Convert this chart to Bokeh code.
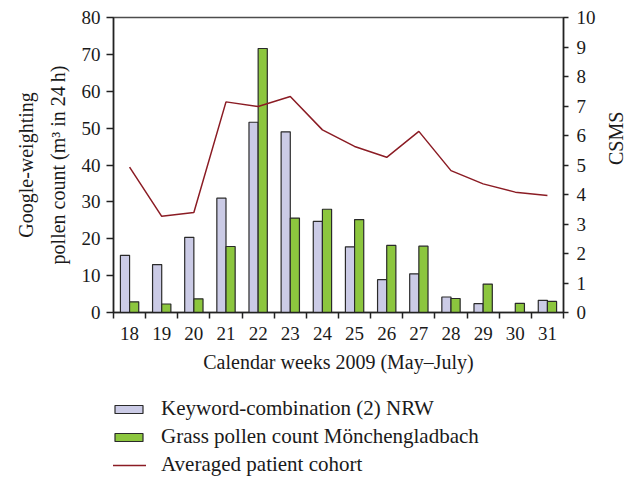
from bokeh.plotting import figure
from bokeh.layouts import column
from bokeh.models import (Range1d, LinearAxis, FixedTicker, Legend, LegendItem,
                          ColumnDataSource)
from bokeh.transform import dodge
from bokeh.embed import file_html
from bokeh.resources import INLINE
import math

weeks = [18, 19, 20, 21, 22, 23, 24, 25, 26, 27, 28, 29, 30, 31]
keyword_nrw = [15.5, 13.0, 20.4, 31.0, 51.6, 49.0, 24.7, 17.8, 8.9, 10.5, 4.2, 2.4, 0.0, 3.3]
grass_pollen = [2.9, 2.3, 3.7, 17.9, 71.6, 25.6, 28.0, 25.2, 18.2, 18.0, 3.8, 7.7, 2.5, 3.0]
csms = [4.93, 3.26, 3.39, 7.14, 6.98, 7.32, 6.19, 5.63, 5.26, 6.14, 4.81, 4.36, 4.08, 3.97]
left_ticks = [0, 10, 20, 30, 40, 50, 60, 70, 80]
right_ticks = [0, 1, 2, 3, 4, 5, 6, 7, 8, 9, 10]
legend_labels = ["Keyword-combination (2) NRW",
                 "Grass pollen count M\u00f6nchengladbach",
                 "Averaged patient cohort"]

FONT = "Liberation Serif"
PURPLE = "#cbcbe6"
GREEN = "#8cc63e"
RED = "#8b1c24"
EDGE = "#2a2a2a"

src = ColumnDataSource(dict(week=weeks, kw=keyword_nrw, gr=grass_pollen, cs=csms))

p = figure(width=640, height=385, output_backend="svg", toolbar_location=None,
           x_range=Range1d(17.5, 31.5), y_range=Range1d(0, 80),
           min_border_left=113, min_border_top=17, min_border_right=73,
           min_border_bottom=73)
p.extra_y_ranges = {"csms": Range1d(0, 10)}
p.xgrid.visible = False
p.ygrid.visible = False
p.outline_line_color = "#4d4d4d"
p.outline_line_width = 1.5
p.background_fill_color = "white"
p.border_fill_color = "white"

bw = 0.285
p.vbar(x=dodge("week", -bw / 2), top="kw", width=bw, source=src,
       fill_color=PURPLE, line_color=EDGE, line_width=1.2)
p.vbar(x=dodge("week", bw / 2), top="gr", width=bw, source=src,
       fill_color=GREEN, line_color=EDGE, line_width=1.2)
p.line(x="week", y="cs", source=src, y_range_name="csms",
       line_color=RED, line_width=1.5)

# x axis
xa = p.xaxis[0]
xa.ticker = FixedTicker(ticks=weeks, minor_ticks=[w - 0.5 for w in weeks] + [weeks[-1] + 0.5])
xa.major_tick_out = 0
xa.major_tick_in = 0
xa.minor_tick_out = 6
xa.minor_tick_in = 0
xa.minor_tick_line_color = "#222222"
xa.minor_tick_line_width = 1.5
xa.axis_line_color = "#222222"
xa.axis_line_width = 1.5
xa.major_label_text_font = FONT
xa.major_label_text_font_size = "19px"
xa.major_label_text_color = "#1a1a1a"
xa.major_label_standoff = 8
xa.axis_label = "Calendar weeks 2009 (May\u2013July)"
xa.axis_label_text_font = FONT
xa.axis_label_text_font_size = "20px"
xa.axis_label_text_font_style = "normal"
xa.axis_label_text_color = "#1a1a1a"
xa.axis_label_standoff = 8

# left axis
ya = p.yaxis[0]
ya.ticker = FixedTicker(ticks=left_ticks)
ya.major_tick_out = 7
ya.major_tick_in = 0
ya.minor_tick_out = 0
ya.minor_tick_in = 0
ya.major_tick_line_color = "#222222"
ya.major_tick_line_width = 1.5
ya.axis_line_color = "#222222"
ya.axis_line_width = 1.5
ya.major_label_text_font = FONT
ya.major_label_text_font_size = "19px"
ya.major_label_text_color = "#1a1a1a"
ya.major_label_standoff = 6
ya.axis_label = "Google-weighting\npollen count (m\u00b3 in 24\u2009h)"
ya.axis_label_text_font = FONT
ya.axis_label_text_font_size = "20px"
ya.axis_label_text_font_style = "normal"
ya.axis_label_text_color = "#1a1a1a"
ya.axis_label_text_line_height = 1.45
ya.axis_label_standoff = 10

# right axis
ra = LinearAxis(y_range_name="csms", ticker=FixedTicker(ticks=right_ticks))
ra.major_tick_out = 5
ra.major_tick_in = 0
ra.minor_tick_out = 0
ra.minor_tick_in = 0
ra.major_tick_line_color = "#222222"
ra.major_tick_line_width = 1.5
ra.axis_line_color = "#222222"
ra.axis_line_width = 1.5
ra.major_label_text_font = FONT
ra.major_label_text_font_size = "19px"
ra.major_label_text_color = "#1a1a1a"
ra.major_label_standoff = 8
ra.axis_label = "CSMS"
ra.axis_label_text_font = FONT
ra.axis_label_text_font_size = "20px"
ra.axis_label_text_font_style = "normal"
ra.axis_label_text_color = "#1a1a1a"
ra.axis_label_standoff = 17
ra.axis_label_orientation = math.pi / 2
p.add_layout(ra, "right")

# legend panel (separate figure below the chart) with proxy glyphs that
# hold no drawable values, so only the legend swatches appear
lg = figure(width=640, height=92, output_backend="svg", toolbar_location=None,
            x_range=Range1d(0, 1), y_range=Range1d(0, 1),
            x_axis_location=None, y_axis_location=None,
            min_border_left=0, min_border_right=0, min_border_top=0, min_border_bottom=0)
lg.xgrid.visible = False
lg.ygrid.visible = False
lg.outline_line_color = None
lg.border_fill_color = "white"
lg.background_fill_color = "white"
nan = float("nan")
proxy = ColumnDataSource(dict(x=[nan], top=[nan], y=[nan]))
l1 = lg.vbar(x="x", top="top", width=0.1, source=proxy,
             fill_color=PURPLE, line_color=EDGE, line_width=1.2)
l2 = lg.vbar(x="x", top="top", width=0.1, source=proxy,
             fill_color=GREEN, line_color=EDGE, line_width=1.2)
l3 = lg.line(x="x", y="y", source=proxy, line_color=RED, line_width=1.5)

legend = Legend(items=[
    LegendItem(label=legend_labels[0], renderers=[l1]),
    LegendItem(label=legend_labels[1], renderers=[l2]),
    LegendItem(label=legend_labels[2], renderers=[l3]),
], location=(-2, 0))
legend.glyph_width = 35
legend.glyph_height = 10
legend.label_height = 20
legend.label_standoff = 15
legend.spacing = 3
legend.padding = 0
legend.margin = 0
legend.border_line_alpha = 0
legend.background_fill_alpha = 0
legend.label_text_font = FONT
legend.label_text_font_size = "21px"
legend.label_text_color = "#1a1a1a"
lg.add_layout(legend, "center")

layout = column(p, lg, spacing=0)
open("out.html", "w").write(file_html(layout, INLINE))
